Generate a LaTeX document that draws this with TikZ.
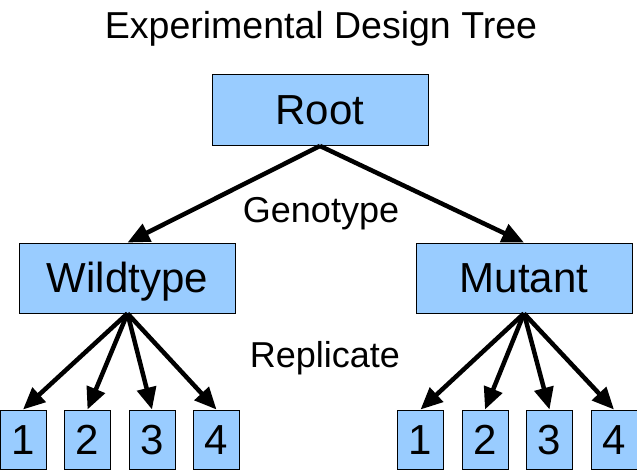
\documentclass[tikz,border=0pt]{standalone}
\usepackage{fontspec}
\setmainfont{Liberation Sans}
\usetikzlibrary{arrows.meta}
\definecolor{boxblue}{HTML}{99CCFF}

\begin{document}
\begin{tikzpicture}[x=1pt, y=-1pt, >={Triangle[length=22pt, width=19pt]},
  factor/.style={draw=black, line width=0.9pt, fill=boxblue, inner sep=0pt,
    minimum width=216pt, minimum height=70pt, text height=30pt, text depth=0pt,
    font=\fontsize{42}{48}\selectfont},
  leaf/.style={factor, minimum width=46pt, minimum height=59pt},
  steplabel/.style={font=\fontsize{36}{42}\selectfont, anchor=base},
  branch/.style={->, line width=4.5pt}]

  %% ---- Frame ----
  \useasboundingbox (0, 0) rectangle (637, 470);

  %% ---- Parameters ----
  \pgfmathsetmacro{\ly}{439.5}
  \pgfmathsetmacro{\gap}{64.5}

  %% ---- Title ----
  \node[steplabel, font=\fontsize{37.5}{42}\selectfont] (title) at (321, 39)
    {Experimental Design Tree};

  %% ---- Root and genotypes ----
  \node[factor, minimum height=71pt] (root) at (320, 110) {Root};
  \node[factor] (wild) at (127.5, 278) {Wildtype};
  \node[factor] (mut)  at (524, 278)   {Mutant};

  %% ---- Replicates (left) ----
  \node[leaf] (w1) at (23, \ly)          {1};
  \node[leaf] (w2) at ({23+\gap}, \ly)   {2};
  \node[leaf] (w3) at ({23+2*\gap}, \ly) {3};
  \node[leaf] (w4) at ({23+3*\gap}, \ly) {4};

  %% ---- Replicates (right) ----
  \node[leaf] (m1) at (420.5, \ly)          {1};
  \node[leaf] (m2) at ({420.5+\gap}, \ly)   {2};
  \node[leaf] (m3) at ({420.5+2*\gap}, \ly) {3};
  \node[leaf] (m4) at ({420.5+3*\gap}, \ly) {4};

  %% ---- Level labels ----
  \node[steplabel] (genotype)  at (321, 223) {Genotype};
  \node[steplabel] (replicate) at (325, 367) {Replicate};

  %% ---- Branches ----
  \draw[branch] (root.south) -- (wild.north);
  \draw[branch] (root.south) -- (mut.north);

  \draw[branch] (wild.south) -- (w1.north);
  \draw[branch] (wild.south) -- (w2.north);
  \draw[branch] (wild.south) -- (w3.north);
  \draw[branch] (wild.south) -- (w4.north);

  \draw[branch] (mut.south) -- (m1.north);
  \draw[branch] (mut.south) -- (m2.north);
  \draw[branch] (mut.south) -- (m3.north);
  \draw[branch] (mut.south) -- (m4.north);

\end{tikzpicture}
\end{document}
